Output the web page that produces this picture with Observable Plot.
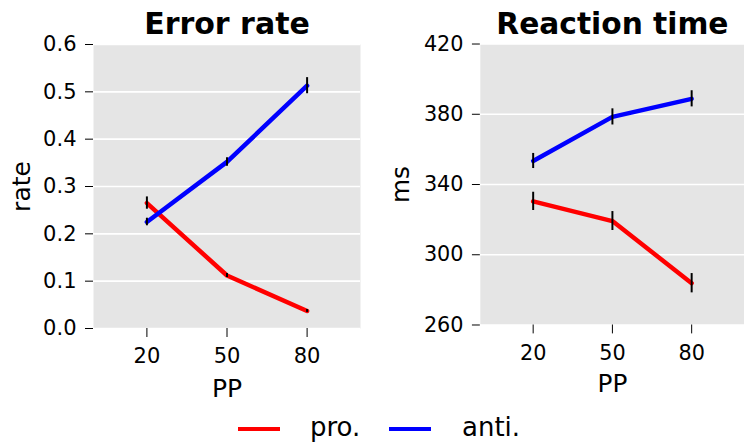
<!DOCTYPE html>
<html>
<head>
<meta charset="utf-8">
<script src="https://cdn.jsdelivr.net/npm/d3@7"></script>
<script src="https://cdn.jsdelivr.net/npm/@observablehq/plot@0.6"></script>
<style>
  html, body { margin: 0; padding: 0; background: #fff; overflow: hidden; }
  body { width: 744px; height: 445px; position: relative; font-family: "DejaVu Sans", sans-serif; }
  #left { position: absolute; left: 0; top: 0; }
  #right { position: absolute; left: 372px; top: 0; }
  #legend { position: absolute; left: 0; top: 410px; width: 744px; height: 35px; font-size: 26px; color: #000; }
  .sw { position: absolute; height: 4px; top: 17px; }
  .lt { position: absolute; top: 0px; line-height: 34px; }
</style>
</head>
<body>
<div id="left"></div>
<div id="right"></div>
<div id="legend"></div>
<script>
// ---- data ----
const pp = [20, 50, 80];
const seriesNames = ["pro.", "anti."];
const seriesColors = ["#ff0000", "#0000ff"];

const errPro = [0.265, 0.112, 0.037];
const errProSE = [0.013, 0.004, 0.003];
const errAnti = [0.225, 0.352, 0.513];
const errAntiSE = [0.008, 0.009, 0.017];

const rtPro = [330.4, 319.2, 283.8];
const rtProSE = [5.2, 5.4, 5.5];
const rtAnti = [353.4, 378.5, 388.8];
const rtAntiSE = [4.3, 4.6, 4.6];

const errTicks = [0, 0.1, 0.2, 0.3, 0.4, 0.5, 0.6];
const rtTicks = [260, 300, 340, 380, 420];

function rows(vals, se, name) {
  return pp.map((p, i) => ({pp: p, v: vals[i], lo: vals[i] - se[i], hi: vals[i] + se[i], cond: name}));
}

function panel({title, ylabel, series, yDomain, yTicks, tickFormat, width, marginLeft, marginRight, labelDx}) {
  const marks = [
    Plot.frame({fill: "#e5e5e5", stroke: null}),
    Plot.gridY(yTicks, {stroke: "#ffffff", strokeOpacity: 1, strokeWidth: 1.6}),
    Plot.axisY(yTicks, {tickSize: 8, tickPadding: 9, fontSize: 21, tickFormat, label: null, stroke: "#000", fill: "#000"}),
    Plot.axisX(pp, {tickSize: 9, tickPadding: 11, fontSize: 21, label: null, stroke: "#000", fill: "#000"}),
  ];
  series.forEach((s, k) => {
    marks.push(Plot.line(s, {x: "pp", y: "v", stroke: seriesColors[k], strokeWidth: 4.5}));
  });
  series.forEach((s) => {
    marks.push(Plot.ruleX(s, {x: "pp", y1: "lo", y2: "hi", stroke: "#000", strokeWidth: 2}));
  });
  marks.push(Plot.text([title], {frameAnchor: "top", lineAnchor: "middle", textAnchor: "middle", dy: -20, fontSize: 30, fontWeight: "bold", fill: "#000"}));
  marks.push(Plot.text(["PP"], {frameAnchor: "bottom", lineAnchor: "middle", textAnchor: "middle", dy: 60, fontSize: 25, fill: "#000"}));
  marks.push(Plot.text([ylabel], {frameAnchor: "left", lineAnchor: "middle", textAnchor: "middle", dx: labelDx, rotate: -90, fontSize: 25, fill: "#000"}));
  return Plot.plot({
    width, height: 400,
    marginLeft, marginRight, marginTop: 44, marginBottom: 72,
    style: {fontFamily: "DejaVu Sans, sans-serif", fontSize: "21px", background: "transparent", overflow: "visible"},
    x: {domain: [0, 100]},
    y: {domain: yDomain},
    marks
  });
}

document.getElementById("left").append(panel({
  title: "Error rate", ylabel: "rate",
  series: [rows(errPro, errProSE, "pro."), rows(errAnti, errAntiSE, "anti.")],
  yDomain: [0, 0.6], yTicks: errTicks, tickFormat: d => d.toFixed(1),
  width: 372, marginLeft: 93, marginRight: 12, labelDx: -72
}));

document.getElementById("right").append(panel({
  title: "Reaction time", ylabel: "ms",
  series: [rows(rtPro, rtProSE, "pro."), rows(rtAnti, rtAntiSE, "anti.")],
  yDomain: [260, 420], yTicks: rtTicks, tickFormat: d => String(d),
  width: 376, marginLeft: 109, marginRight: 0, labelDx: -80
}));

// legend
const legend = document.getElementById("legend");
const legendPos = [{sw: 238, tx: 310}, {sw: 389, tx: 462}];
seriesNames.forEach((n, k) => {
  const s = document.createElement("div");
  s.className = "sw";
  s.style.left = legendPos[k].sw + "px";
  s.style.width = "42px";
  s.style.background = seriesColors[k];
  legend.append(s);
  const t = document.createElement("div");
  t.className = "lt";
  t.style.left = legendPos[k].tx + "px";
  t.textContent = n;
  legend.append(t);
});
</script>
</body>
</html>
